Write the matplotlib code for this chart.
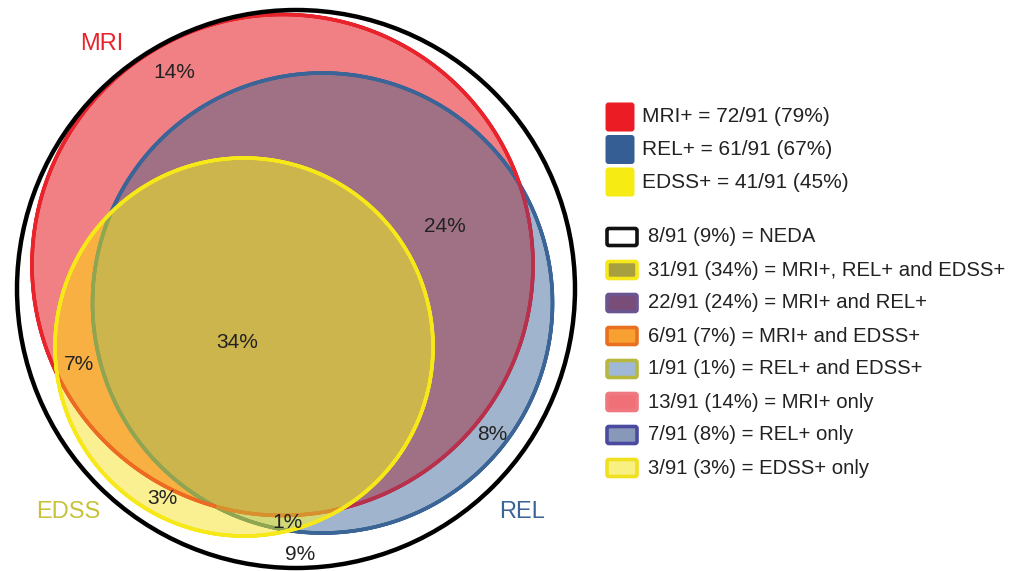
import numpy as np
import matplotlib
matplotlib.use("Agg")
import matplotlib.pyplot as plt
from matplotlib.patches import Circle, Polygon, FancyBboxPatch
from matplotlib.collections import LineCollection

plt.rcParams['font.family'] = ['Liberation Sans', 'DejaVu Sans']

# ---------------- data ----------------
total = 91
set_names = ['MRI', 'REL', 'EDSS']
set_counts = [72, 61, 41]
region_names = ['NEDA', 'MRI+, REL+ and EDSS+', 'MRI+ and REL+', 'MRI+ and EDSS+',
                'REL+ and EDSS+', 'MRI+ only', 'REL+ only', 'EDSS+ only']
region_counts = [8, 31, 22, 6, 1, 13, 7, 3]

def pct(c):
    return int(round(100.0 * c / total))

# ---------------- layout / style ----------------
W, H = 1025, 571
fig = plt.figure(figsize=(W / 100, H / 100), dpi=100)
ax = fig.add_axes([0, 0, 1, 1])
ax.set_xlim(0, W)
ax.set_ylim(H, 0)
ax.axis('off')

outer = (296, 289, 279)
circ = {'MRI': (282.5, 265, 250.5), 'REL': (322.5, 303, 230), 'EDSS': (244, 347, 189)}

fill_col = {
    'MRI+ only': '#f18084', 'REL+ only': '#a0b4cd', 'EDSS+ only': '#faf091',
    'MRI+ and REL+': '#a07185', 'MRI+ and EDSS+': '#f9b042',
    'REL+ and EDSS+': '#d2d778', 'MRI+, REL+ and EDSS+': '#ccb54c',
}

def cpatch(name, **kw):
    x, y, r = circ[name]
    return Circle((x, y), r, transform=ax.transData, **kw)

def inside(name, px, py):
    x, y, r = circ[name]
    return (px - x) ** 2 + (py - y) ** 2 < r ** 2

# fills
p = cpatch('MRI', fc=fill_col['MRI+ only'], ec='none', zorder=1); ax.add_patch(p)
p = cpatch('REL', fc=fill_col['REL+ only'], ec='none', zorder=1); ax.add_patch(p)
p = cpatch('REL', fc=fill_col['MRI+ and REL+'], ec='none', zorder=2); ax.add_patch(p)
p.set_clip_path(cpatch('MRI'))
p = cpatch('EDSS', fc=fill_col['EDSS+ only'], ec='none', zorder=3); ax.add_patch(p)
p = cpatch('EDSS', fc=fill_col['MRI+ and EDSS+'], ec='none', zorder=4); ax.add_patch(p)
p.set_clip_path(cpatch('MRI'))
p = cpatch('EDSS', fc=fill_col['REL+ and EDSS+'], ec='none', zorder=4); ax.add_patch(p)
p.set_clip_path(cpatch('REL'))

# polygon of MRI ∩ REL for the triple region
t = np.linspace(0, 2 * np.pi, 1440, endpoint=False)
pts = []
for a, b in (('MRI', 'REL'), ('REL', 'MRI')):
    x, y, r = circ[a]
    px, py = x + r * np.cos(t), y + r * np.sin(t)
    m = inside(b, px, py)
    pts.append(np.column_stack([px[m], py[m]]))
pts = np.vstack(pts)
c0 = pts.mean(axis=0)
order = np.argsort(np.arctan2(pts[:, 1] - c0[1], pts[:, 0] - c0[0]))
mr_poly = Polygon(pts[order], closed=True, transform=ax.transData)
p = cpatch('EDSS', fc=fill_col['MRI+, REL+ and EDSS+'], ec='none', zorder=5); ax.add_patch(p)
p.set_clip_path(mr_poly)

# outlines, coloured per segment
def outline(name, colfun, lw, z):
    x, y, r = circ[name]
    tt = np.linspace(0, 2 * np.pi, 2001)
    px, py = x + r * np.cos(tt), y + r * np.sin(tt)
    P = np.column_stack([px, py])
    segs = np.stack([P[:-1], P[1:]], axis=1)
    mx, my = (px[:-1] + px[1:]) / 2, (py[:-1] + py[1:]) / 2
    cols = [colfun(a, b) for a, b in zip(mx, my)]
    lc = LineCollection(segs, colors=cols, linewidths=lw, capstyle='round', zorder=z)
    ax.add_collection(lc)

def rel_col(a, b):
    return '#8fa552' if inside('EDSS', a, b) else '#3b6597'

def mri_col(a, b):
    iR, iE = inside('REL', a, b), inside('EDSS', a, b)
    if iR and iE:
        return '#d8902e'
    if iE:
        return '#ec6a22'
    if iR:
        return '#b8304c'
    return '#e8232b'

outline('REL', rel_col, 2.6, 6)
outline('MRI', mri_col, 2.6, 7)
outline('EDSS', lambda a, b: '#f7e819', 2.6, 8)
ax.add_patch(Circle(outer[:2], outer[2], fc='none', ec='black', lw=3.2, zorder=9))

# set labels
ax.text(102, 44, set_names[0], color='#e8232b', fontsize=17, ha='center', va='center', zorder=10)
ax.text(522, 512, set_names[1], color='#3b6597', fontsize=17, ha='center', va='center', zorder=10)
ax.text(68, 512, set_names[2], color='#c8c23a', fontsize=17, ha='center', va='center', zorder=10)

# region percentage labels
label_pos = {
    'NEDA': (300, 554), 'MRI+, REL+ and EDSS+': (237, 343), 'MRI+ and REL+': (445, 226),
    'MRI+ and EDSS+': (79, 364), 'REL+ and EDSS+': (287, 523), 'MRI+ only': (174, 72),
    'REL+ only': (492, 434), 'EDSS+ only': (162, 498),
}
for n, c in zip(region_names, region_counts):
    x, y = label_pos[n]
    ax.text(x, y, f'{pct(c)}%', color='#222222', fontsize=15, ha='center', va='center', zorder=10)

# legend: sets
set_col = ['#ec1c24', '#355f94', '#f6ec13']
for i, (n, c) in enumerate(zip(set_names, set_counts)):
    yc = 117 + i * 32.5
    ax.add_patch(FancyBboxPatch((607, yc - 13), 26, 26, boxstyle='round,pad=1.5,rounding_size=3',
                                fc=set_col[i], ec='none', zorder=10))
    ax.text(642, yc, f'{n}+ = {c}/{total} ({pct(c)}%)', color='#222222', fontsize=15,
            ha='left', va='center', zorder=10)

# legend: regions
box_fc = ['#ffffff', '#a8a040', '#7a4c78', '#f8a030', '#a0b8d8', '#f07078', '#8898b8', '#f8f080']
box_ec = ['#111111', '#f6e81a', '#6a5590', '#e87020', '#b8b840', '#f07880', '#4a4aa0', '#f0e020']
for i, (n, c) in enumerate(zip(region_names, region_counts)):
    yc = 237 + i * 33
    ax.add_patch(FancyBboxPatch((608, yc - 7.5), 28, 15, boxstyle='round,pad=1,rounding_size=2',
                                fc=box_fc[i], ec=box_ec[i], lw=2.6, zorder=10))
    ax.text(648, yc, f'{c}/{total} ({pct(c)}%) = {n}', color='#222222', fontsize=14.6,
            ha='left', va='center', zorder=10)

fig.savefig('out.png', dpi=100, facecolor='white')
